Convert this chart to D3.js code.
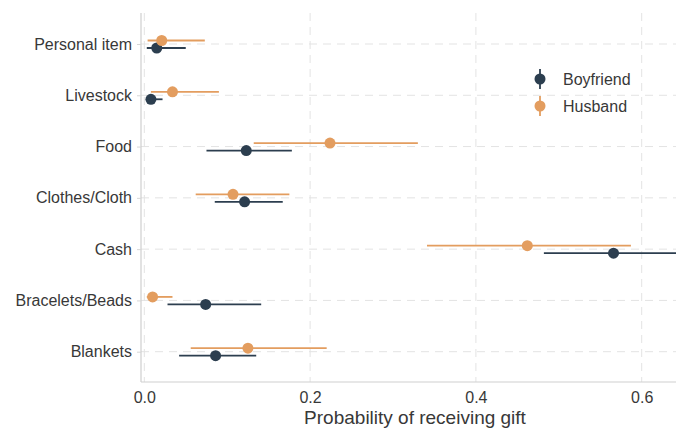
<!DOCTYPE html>
<html>
<head>
<meta charset="utf-8">
<script src="https://cdn.jsdelivr.net/npm/d3@7"></script>
<style>
  body { margin: 0; background: #fff; }
  svg { display: block; font-family: "Liberation Sans", Arial, sans-serif; }
</style>
</head>
<body>
<svg id="chart"></svg>
<script>
// categories top to bottom
const categories = ['Personal item', 'Livestock', 'Food', 'Clothes/Cloth', 'Cash', 'Bracelets/Beads', 'Blankets'];

// Boyfriend: estimate, lower CI, upper CI
const boyfriendEst = [0.015, 0.008, 0.123, 0.121, 0.566, 0.074, 0.086];
const boyfriendLo  = [0.003, 0.003, 0.075, 0.085, 0.482, 0.028, 0.042];
const boyfriendHi  = [0.050, 0.022, 0.178, 0.167, 0.650, 0.141, 0.135];

// Husband
const husbandEst = [0.021, 0.034, 0.224, 0.107, 0.462, 0.010, 0.125];
const husbandLo  = [0.004, 0.008, 0.132, 0.062, 0.341, 0.003, 0.056];
const husbandHi  = [0.073, 0.090, 0.330, 0.175, 0.587, 0.034, 0.220];

const xTicks = [0, 0.2, 0.4, 0.6];
const xTickLabels = ['0.0', '0.2', '0.4', '0.6'];

const width = 676, height = 433;
const plotLeft = 141, plotTop = 13, plotBottom = 382, plotRight = 676;
const textColor = '#383838';

const svg = d3.select('#chart')
  .attr('width', width)
  .attr('height', height);

const x = d3.scaleLinear().domain([0, 0.6]).range([144.3, 641.7]);
const y = d3.scalePoint().domain(categories).range([44, 351.7]);

const series = [
  { name: 'Boyfriend', color: '#2c3e4f', est: boyfriendEst, lo: boyfriendLo, hi: boyfriendHi, dy: 4 },
  { name: 'Husband', color: '#e39d5f', est: husbandEst, lo: husbandLo, hi: husbandHi, dy: -3.5 }
];

// clip for plot area
svg.append('clipPath').attr('id', 'plot')
  .append('rect')
  .attr('x', plotLeft).attr('y', plotTop)
  .attr('width', plotRight - plotLeft).attr('height', plotBottom - plotTop);

// vertical gridlines
svg.append('g')
  .selectAll('line')
  .data(xTicks)
  .enter()
  .append('line')
  .attr('x1', d => x(d)).attr('x2', d => x(d))
  .attr('y1', plotTop).attr('y2', plotBottom)
  .attr('stroke', '#e3e3e3')
  .attr('stroke-width', 1)
  .attr('stroke-dasharray', '8,6');

// horizontal gridlines
svg.append('g')
  .selectAll('line')
  .data(categories)
  .enter()
  .append('line')
  .attr('x1', plotLeft).attr('x2', plotRight)
  .attr('y1', d => y(d)).attr('y2', d => y(d))
  .attr('stroke', '#e3e3e3')
  .attr('stroke-width', 1)
  .attr('stroke-dasharray', '8,6');

// axes lines
svg.append('line')
  .attr('x1', plotLeft).attr('x2', plotLeft)
  .attr('y1', plotTop).attr('y2', plotBottom)
  .attr('stroke', '#cfcfcf').attr('stroke-width', 1.2);
svg.append('line')
  .attr('x1', plotLeft).attr('x2', plotRight)
  .attr('y1', plotBottom).attr('y2', plotBottom)
  .attr('stroke', '#cfcfcf').attr('stroke-width', 1.2);

// y axis
const yAxis = d3.axisLeft(y).tickSize(4).tickPadding(5);
const gy = svg.append('g')
  .attr('transform', `translate(${plotLeft},0)`)
  .call(yAxis);
gy.select('.domain').remove();
gy.selectAll('.tick line').attr('stroke', '#d6d6d6');
gy.selectAll('.tick text')
  .attr('fill', textColor)
  .attr('font-size', '16px')
  .attr('font-family', '"Liberation Sans", Arial, sans-serif');

// x axis
const xAxis = d3.axisBottom(x).tickValues(xTicks)
  .tickFormat((d, i) => xTickLabels[i]).tickSize(0).tickPadding(10);
const gx = svg.append('g')
  .attr('transform', `translate(0,${plotBottom})`)
  .call(xAxis);
gx.select('.domain').remove();
gx.selectAll('.tick text')
  .attr('fill', textColor)
  .attr('font-size', '16px')
  .attr('font-family', '"Liberation Sans", Arial, sans-serif');

// axis title
svg.append('text')
  .attr('x', 415)
  .attr('y', 424)
  .attr('text-anchor', 'middle')
  .attr('font-size', '19px')
  .attr('fill', textColor)
  .text('Probability of receiving gift');

// error bars and points
const plot = svg.append('g').attr('clip-path', 'url(#plot)');
series.forEach(s => {
  const rows = categories.map((c, i) => ({ c, est: s.est[i], lo: s.lo[i], hi: s.hi[i] }));
  const g = plot.append('g');
  g.selectAll('line')
    .data(rows)
    .enter()
    .append('line')
    .attr('x1', d => x(d.lo))
    .attr('x2', d => x(d.hi))
    .attr('y1', d => y(d.c) + s.dy)
    .attr('y2', d => y(d.c) + s.dy)
    .attr('stroke', s.color)
    .attr('stroke-width', 1.8);
  g.selectAll('circle')
    .data(rows)
    .enter()
    .append('circle')
    .attr('cx', d => x(d.est))
    .attr('cy', d => y(d.c) + s.dy)
    .attr('r', 5.5)
    .attr('fill', s.color);
});

// legend
const legend = svg.append('g').attr('transform', 'translate(540,79)');
series.forEach((s, i) => {
  const row = legend.append('g').attr('transform', `translate(0,${i * 27})`);
  row.append('line')
    .attr('x1', 0).attr('x2', 0)
    .attr('y1', -10).attr('y2', 10)
    .attr('stroke', s.color).attr('stroke-width', 1.8);
  row.append('circle')
    .attr('r', 5.5)
    .attr('fill', s.color);
  row.append('text')
    .attr('x', 23)
    .attr('y', 6)
    .attr('font-size', '16px')
    .attr('fill', textColor)
    .text(s.name);
});
</script>
</body>
</html>
